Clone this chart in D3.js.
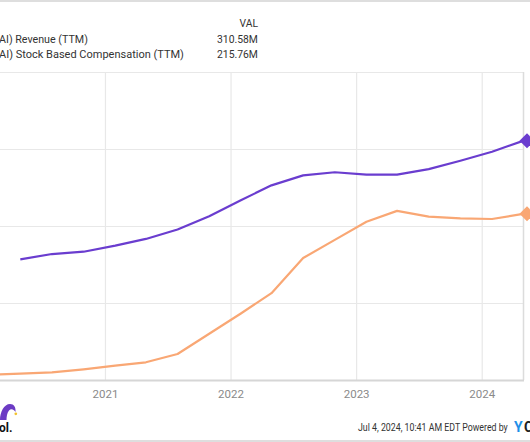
<!DOCTYPE html>
<html>
<head>
<meta charset="utf-8">
<script src="https://cdn.jsdelivr.net/npm/d3@7"></script>
<style>
  html, body { margin: 0; padding: 0; background: #fff; }
  svg { display: block; font-family: Roboto, "Noto Sans", sans-serif; }
</style>
</head>
<body>
<svg id="chart" width="530" height="442"></svg>
<script>
// ---- data (C3.ai, millions USD, trailing twelve months, fiscal quarter ends) ----
const quarterEnds = ["2020-01-31","2020-04-30","2020-07-31","2020-10-31","2021-01-31","2021-04-30",
  "2021-07-31","2021-10-31","2022-01-31","2022-04-30","2022-07-31","2022-10-31","2023-01-31",
  "2023-04-30","2023-07-31","2023-10-31","2024-01-31","2024-04-30"];
const revenueTTM = [null, 156.7, 163.6, 166.6, 174.5, 183.2, 195.5, 212.8, 233.5, 252.8, 265.7,
  269.8, 266.7, 266.8, 273.9, 284.7, 296.4, 310.58];
const sbcTTM = [6.8, 8.3, 10.0, 13.9, 18.7, 23.0, 33.8, 60.0, 86.4, 112.8, 158.4, 182.0, 205.6,
  219.6, 212.1, 210.0, 209.1, 215.76];
const seriesNames = ["AI) Revenue (TTM)", "AI) Stock Based Compensation (TTM)"];
const lastValues = ["310.58M", "215.76M"];
const yearTicks = ["2021-01-01","2022-01-01","2023-01-01","2024-01-01"];
const yTicks = [0, 100, 200, 300, 400];
const footerText = "Jul 4, 2024, 10:41 AM EDT Powered by";

const parse = d3.utcParse("%Y-%m-%d");
const dates = quarterEnds.map(parse);
const colors = ["#6a3dcf", "#f9a774"];

const svg = d3.select("#chart");
const W = 530, H = 442;
const plot = { left: 0, right: 523, top: 72, bottom: 380 };

const x = d3.scaleUtc()
  .domain([parse("2020-03-02"), parse("2024-04-30")])
  .range([plot.left, plot.right]);
const y = d3.scaleLinear().domain([0, 400]).range([plot.bottom, plot.top]);

// top and bottom frame lines
svg.append("line").attr("x1", 0).attr("x2", W).attr("y1", 1).attr("y2", 1)
  .attr("stroke", "#dedede").attr("stroke-width", 2);
svg.append("line").attr("x1", 0).attr("x2", W).attr("y1", 441).attr("y2", 441)
  .attr("stroke", "#dedede").attr("stroke-width", 2);

// horizontal gridlines
svg.append("g")
  .selectAll("line").data(yTicks.filter(d => d > 0)).join("line")
  .attr("x1", plot.left).attr("x2", plot.right)
  .attr("y1", d => Math.round(y(d)) + 0.5).attr("y2", d => Math.round(y(d)) + 0.5)
  .attr("stroke", "#e8e8e8").attr("stroke-width", 1.2);

// vertical gridlines + x axis labels
const xAxis = d3.axisBottom(x)
  .tickValues(yearTicks.map(parse))
  .tickFormat(d3.utcFormat("%Y"))
  .tickSize(-(plot.bottom - plot.top))
  .tickPadding(0);
const gx = svg.append("g").attr("transform", `translate(0,${plot.bottom})`).call(xAxis);
gx.select(".domain").remove();
gx.selectAll(".tick line").attr("stroke", "#e8e8e8").attr("stroke-width", 1.2);
gx.selectAll(".tick text")
  .attr("y", 18).attr("dy", 0)
  .attr("fill", "#8a8a8a")
  .attr("font-size", 11.5)
  .attr("font-family", "Roboto, sans-serif");

// right border and bottom axis line
svg.append("line").attr("x1", plot.right + 0.5).attr("x2", plot.right + 0.5)
  .attr("y1", plot.top).attr("y2", plot.bottom)
  .attr("stroke", "#dcdcdc").attr("stroke-width", 1.5);
svg.append("line").attr("x1", 0).attr("x2", plot.right + 1)
  .attr("y1", plot.bottom + 0.5).attr("y2", plot.bottom + 0.5)
  .attr("stroke", "#d6d6d6").attr("stroke-width", 2);

// lines
const defs = svg.append("defs");
defs.append("clipPath").attr("id", "plotclip").append("rect")
  .attr("x", plot.left).attr("y", plot.top - 5)
  .attr("width", plot.right - plot.left + 2).attr("height", plot.bottom - plot.top + 10);

const line = d3.line()
  .defined(d => d.v != null)
  .x(d => x(d.date)).y(d => y(d.v));

const series = [revenueTTM, sbcTTM].map(vals => vals.map((v, i) => ({ date: dates[i], v })));
const gl = svg.append("g").attr("clip-path", "url(#plotclip)");
series.forEach((s, i) => {
  gl.append("path").datum(s)
    .attr("fill", "none").attr("stroke", colors[i])
    .attr("stroke-width", 2.2).attr("stroke-linejoin", "round")
    .attr("d", line);
});

// end diamonds
series.forEach((s, i) => {
  const last = s[s.length - 1];
  const cx = x(last.date) + 4, cy = y(last.v);
  const r = 7.5;
  svg.append("path")
    .attr("d", `M${cx - r},${cy} L${cx},${cy - r} L${cx + r},${cy} L${cx},${cy + r} Z`)
    .attr("fill", colors[i]);
});

// helper: condensed text drawn by horizontal scaling to a target width
function condensedText(str, x0, y0, width, size, fill, weight) {
  const t = svg.append("text").attr("x", 0).attr("y", 0)
    .attr("font-size", size).attr("fill", fill)
    .attr("font-weight", weight || 400).text(str);
  const natural = t.node().getComputedTextLength();
  const k = width / natural;
  t.attr("transform", `translate(${x0},${y0}) scale(${k},1)`);
  return t;
}

// legend
condensedText("VAL", 239.5, 27, 18.5, 11.5, "#333");
seriesNames.forEach((name, i) => {
  const by = 42.5 + i * 15;
  condensedText(name, -1, by, i === 0 ? 89 : 185, 11.5, "#333");
  condensedText(lastValues[i], 217, by, 41, 11.5, "#333");
});

// footer: Motley Fool logo fragment
svg.append("path")
  .attr("d", "M0,420 C0,412 4,404 10,404 C14,404 16,407 15.5,412 C13.5,409 11,408.5 9,410.5 C7,413 6.5,417 6.5,420 Z")
  .attr("fill", "#6c3bc4");
svg.append("circle").attr("cx", 15.8).attr("cy", 413.8).attr("r", 1.4).attr("fill", "#f2c230");
svg.append("text").attr("x", -1).attr("y", 432)
  .attr("font-size", 12).attr("font-weight", 700).attr("fill", "#111")
  .text("ol.");

// footer: timestamp + YCharts
condensedText(footerText, 358, 431, 150, 11, "#333");
svg.append("text").attr("x", 514).attr("y", 432)
  .attr("font-size", 14).attr("font-weight", 700).attr("fill", "#1e8fe8")
  .text("Y");
svg.append("text").attr("x", 524).attr("y", 432)
  .attr("font-size", 14).attr("font-weight", 700).attr("fill", "#222")
  .text("CHARTS");
</script>
</body>
</html>
